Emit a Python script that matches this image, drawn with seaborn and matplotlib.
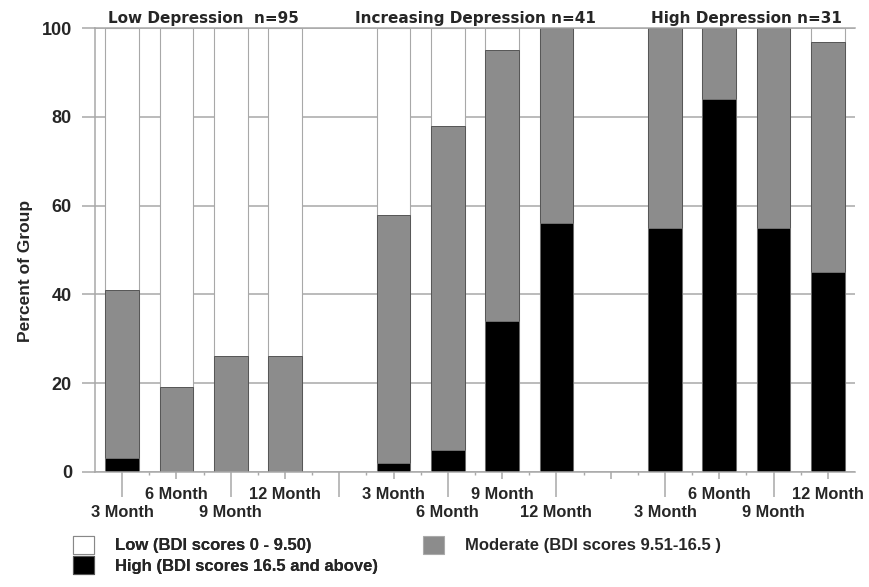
import matplotlib
matplotlib.use("Agg")
import matplotlib.pyplot as plt
import numpy as np
import pandas as pd
import seaborn as sns
from matplotlib.patches import Patch
from matplotlib.transforms import blended_transform_factory

# values (percent of group)
groups = ["Low Depression  n=95", "Increasing Depression n=41", "High Depression n=31"]
months = ["3 Month", "6 Month", "9 Month", "12 Month"]
high_pct = [3, 0, 0, 0, 2, 5, 34, 56, 55, 84, 55, 45]
moderate_pct = [38, 19, 26, 26, 56, 73, 61, 44, 45, 16, 45, 52]
low_pct = [59, 81, 74, 74, 42, 22, 5, 0, 0, 0, 0, 3]

legend_labels = [
    "Low (BDI scores 0 - 9.50)",
    "Moderate (BDI scores 9.51-16.5 )",
    "High (BDI scores 16.5 and above)",
]

WHITE, GREY, BLACK = "#ffffff", "#8c8c8c", "#000000"
LINE = "#a8a8a8"

sns.set_style("white")
plt.rcParams["font.family"] = ["Liberation Sans", "DejaVu Sans"]

# one slot per bar, an empty slot between groups
n_months = len(months)
rows = []
for g, grp in enumerate(groups):
    for m, mon in enumerate(months):
        i = g * n_months + m
        rows.append({
            "slot": g * (n_months + 1) + m,
            "group": grp,
            "month": mon,
            "high": high_pct[i],
            "moderate": moderate_pct[i],
            "low": low_pct[i],
        })
df = pd.DataFrame(rows)
df["top_mod"] = df["high"] + df["moderate"]
df["top_low"] = df["top_mod"] + df["low"]
n_slots = len(groups) * (n_months + 1) - 1

fig = plt.figure(figsize=(8.7, 5.87), dpi=100)
ax = fig.add_axes([95 / 870, 1 - 471.7 / 587, 760 / 870, 443.4 / 587])

bar_kw = dict(native_scale=True, width=0.62, saturation=1, errorbar=None, ax=ax)
sns.barplot(data=df, x="slot", y="top_low", color=WHITE, edgecolor=LINE, linewidth=0.8, **bar_kw)
sns.barplot(data=df, x="slot", y="top_mod", color=GREY, edgecolor="#555555", linewidth=0.7, **bar_kw)
sns.barplot(data=df, x="slot", y="high", color=BLACK, edgecolor="#777777", linewidth=0.6, **bar_kw)

ax.set_xlim(-0.5, n_slots - 0.5)
ax.set_ylim(0, 100)
ax.set_axisbelow(True)
ax.yaxis.grid(True, color=LINE, linewidth=1.1)
ax.xaxis.grid(False)
for side in ["left", "bottom", "top"]:
    ax.spines[side].set_color(LINE)
    ax.spines[side].set_linewidth(1.1)
ax.spines["right"].set_visible(False)

# y axis
ax.set_yticks(np.arange(0, 101, 20))
ax.tick_params(axis="y", which="major", length=9.4, width=1.1, color=LINE, pad=7.2,
               labelsize=13, left=True)
for lab in ax.get_yticklabels():
    lab.set_fontweight("bold")
ax.set_ylabel("Percent of Group", fontsize=12.5, fontweight="bold")
ax.yaxis.set_label_coords(-0.0816, 0.4526)

# x axis: month labels alternate between two rows (long and short ticks)
all_slots = list(range(n_slots))
slot_label = {s: "" for s in all_slots}
for s, mon in zip(df["slot"], df["month"]):
    slot_label[s] = mon
low_row = all_slots[0::2]
up_row = all_slots[1::2]
ax.set_xticks(low_row)
ax.set_xticklabels([slot_label[s] for s in low_row])
ax.set_xticks(up_row, minor=True)
ax.set_xticklabels([slot_label[s] for s in up_row], minor=True)
ax.set_xlabel("")
ax.tick_params(axis="x", which="major", length=18, width=1.1, color=LINE, pad=6.0,
               labelsize=11.8, bottom=True)
ax.tick_params(axis="x", which="minor", length=5, width=1.1, color=LINE, pad=6.2,
               labelsize=11.8, bottom=True)
for lab in ax.get_xticklabels() + ax.get_xticklabels(minor=True):
    lab.set_fontweight("bold")

# tiny ticks on slot boundaries
sec = ax.secondary_xaxis("bottom")
sec.set_xticks(np.arange(0.5, n_slots - 1, 1.0))
sec.set_xticklabels([])
sec.tick_params(length=2.5, width=1.0, color=LINE)
sec.spines["bottom"].set_visible(False)

# group titles above each block of bars
trans = blended_transform_factory(ax.transData, ax.transAxes)
for g, grp in enumerate(groups):
    centre = df.loc[df["group"] == grp, "slot"].mean()
    ax.annotate(grp, xy=(centre, 1.0), xycoords=trans, xytext=(0, 3.6),
                textcoords="offset points", ha="center", va="baseline",
                fontsize=11, fontweight="bold", family=["DejaVu Sans"])

# legend
def box(fc, ec):
    return Patch(facecolor=fc, edgecolor=ec, linewidth=0.8)

leg_kw = dict(frameon=False, loc="upper left", borderpad=0, borderaxespad=0,
              handlelength=1.26, handleheight=1.26, handletextpad=1.26,
              labelspacing=0.15, prop={"size": 12, "weight": "bold"})
leg1 = fig.legend([box(WHITE, "#888888"), box(BLACK, "#555555")],
                  [legend_labels[0], legend_labels[2]],
                  bbox_to_anchor=(73 / 870, 1 - 536 / 587), **leg_kw)
fig.legend([box(GREY, "#aaaaaa")], [legend_labels[1]],
           bbox_to_anchor=(423 / 870, 1 - 536 / 587), **leg_kw)
fig.add_artist(leg1)

fig.savefig("out.png", dpi=100)
